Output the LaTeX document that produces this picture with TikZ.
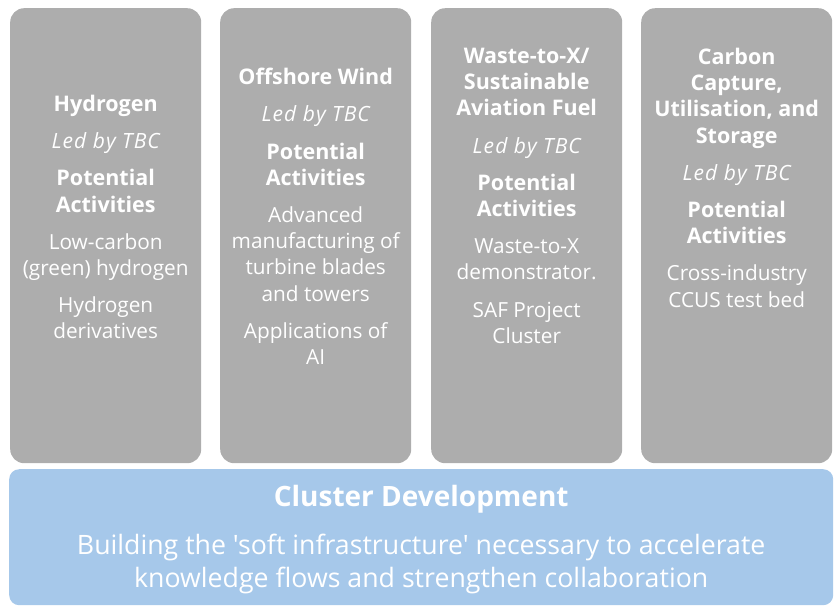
\documentclass[tikz,border=0pt]{standalone}
\usepackage{fontspec}
\setmainfont{Open Sans}[Ligatures=TeXOff]
\usetikzlibrary{positioning}
\definecolor{pillargrey}{HTML}{ADADAD}
\definecolor{clusterblue}{HTML}{A6C8EA}
\newcommand{\gap}{\\[11pt]}
\newcommand{\hd}[1]{{\fontsize{21.5}{26.2}\selectfont\bfseries #1}}
\newcommand{\ledby}{{\fontsize{21}{26.2}\selectfont\addfontfeature{LetterSpace=5}\itshape Led by TBC}}

\begin{document}
\begin{tikzpicture}[x=1pt,y=-1pt]
  \tikzstyle{pillar}=[fill=pillargrey,rounded corners=14pt,minimum width=191pt,minimum height=455pt,inner sep=0pt,anchor=north west]
  \tikzstyle{pillartext}=[anchor=north,text=white,align=center,inner sep=0pt,font=\fontsize{20.8}{26.2}\selectfont]
  \tikzstyle{base}=[fill=clusterblue,rounded corners=10pt,minimum width=824pt,minimum height=136pt,inner sep=0pt,anchor=north west]
  \useasboundingbox (0,0) rectangle (840,606);
  % four pillars
  \node[pillar] (hydrogen) at (10,8) {};
  \node[pillar] (wind) at (220,8) {};
  \node[pillar] (waste) at (431,8) {};
  \node[pillar] (ccus) at (641,8) {};
  \node[pillartext] (hydrogen-txt) at (hydrogen.center |- 0,95) {\hd{Hydrogen}\gap\ledby\gap
    \hd{Potential}\\\hd{Activities}\gap Low-carbon\\(green) hydrogen\gap Hydrogen\\derivatives};
  \node[pillartext] (wind-txt) at (wind.center |- 0,68) {\hd{Offshore Wind}\gap\ledby\gap
    \hd{Potential}\\\hd{Activities}\gap Advanced\\manufacturing of\\turbine blades\\and towers\gap
    Applications of\\AI};
  \node[pillartext] (waste-txt) at (waste.center |- 0,48) {\hd{Waste-to-X/}\\\hd{Sustainable}\\\hd{Aviation Fuel}\gap
    \ledby\gap\hd{Potential}\\\hd{Activities}\gap Waste-to-X\\demonstrator.\gap SAF Project\\Cluster};
  \node[pillartext] (ccus-txt) at (ccus.center |- 0,48) {\hd{Carbon}\\\hd{Capture,}\\\hd{Utilisation, and}\\\hd{Storage}\gap
    \ledby\gap\hd{Potential}\\\hd{Activities}\gap Cross-industry\\CCUS test bed};
  % cluster development underneath
  \node[base] (cluster) at (9,469) {};
  \node[pillartext,font=\fontsize{26.7}{33}\selectfont] (cluster-txt) at (cluster.center |- 0,485)
    {{\fontsize{28}{33}\selectfont\bfseries Cluster Development}\\[15pt]Building the 'soft infrastructure' necessary to accelerate\\knowledge flows and strengthen collaboration};
\end{tikzpicture}
\end{document}
